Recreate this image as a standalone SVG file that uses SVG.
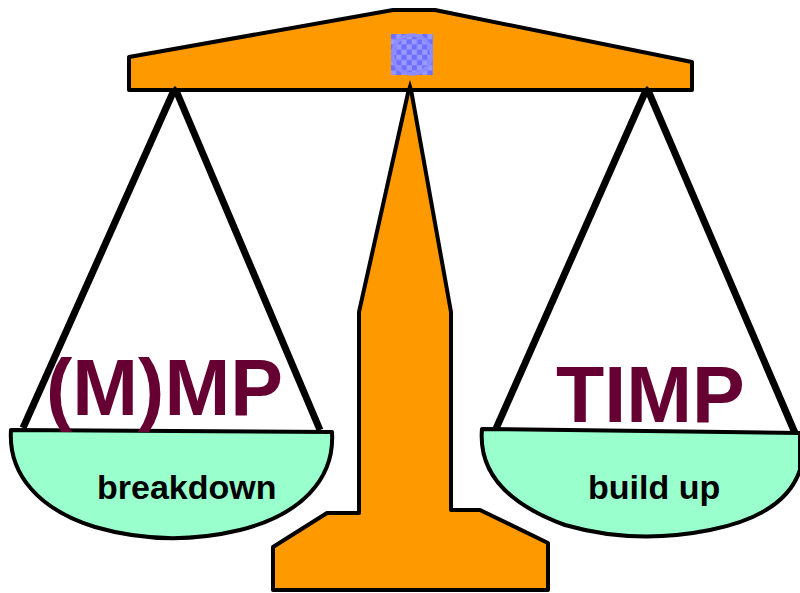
<svg xmlns="http://www.w3.org/2000/svg" width="800" height="593" viewBox="0 0 800 593">
  <defs>
    <style>
      .metal { fill: #ff9900; stroke: #000; stroke-width: 4; stroke-linejoin: round; }
      .pan { fill: #99ffcc; stroke: #000; stroke-width: 4; stroke-linejoin: round; }
      .cord { stroke: #000; stroke-width: 7; stroke-linecap: butt; fill: none; }
      .big { font-family: "Liberation Sans", Arial, sans-serif; font-weight: bold; font-size: 79px; fill: #660033; }
      .small { font-family: "Liberation Sans", Arial, sans-serif; font-weight: bold; font-size: 34px; fill: #000; }
    </style>
    <pattern id="checker" x="391" y="34" width="10.4" height="10.4" patternUnits="userSpaceOnUse">
      <rect width="10.4" height="10.4" fill="#9999ff"/>
      <rect width="5.2" height="5.2" fill="#6f6fff"/>
      <rect x="5.2" y="5.2" width="5.2" height="5.2" fill="#6f6fff"/>
    </pattern>
  </defs>

  <!-- stand: tapered column with a flared foot -->
  <g id="stand">
    <path class="metal" d="M410,84 L451,312 L451,510 L480,510 L548,543 L548,590 L273,590 L273,547 L327,513 L359,513 L359,312 Z"/>
  </g>

  <!-- cords hanging from the beam to the pans -->
  <g id="connectors">
    <line class="cord" x1="175" y1="88" x2="23" y2="428"/>
    <line class="cord" x1="175" y1="88" x2="320" y2="430"/>
    <line class="cord" x1="647" y1="88" x2="495" y2="431"/>
    <line class="cord" x1="647" y1="88" x2="795" y2="433"/>
  </g>

  <!-- balance beam -->
  <g id="beam">
    <path class="metal" d="M129,57 L393,10 L435,10 L692,62 L692,90 L129,90 Z"/>
    <rect x="391" y="34" width="42" height="41" fill="url(#checker)"/>
    <circle cx="412" cy="54.5" r="19.5" fill="none" stroke="#8c8cff" stroke-width="3.5"/>
    <path d="M171,90 L175,86 L179,90 Z" fill="#000"/>
    <path d="M643,90 L647,86 L651,90 Z" fill="#000"/>
    <path d="M407,90 L410,80 L413,90 Z" fill="#000"/>
  </g>

  <!-- left pan -->
  <g id="pan-left">
    <path class="pan" d="M11,430 L332,432 C335,480 300,515 240,530 C190,542 140,540 95,527 C40,510 8,475 11,430 Z"/>
    <text class="big" x="46" y="415">(M)MP</text>
    <text class="small" x="97" y="499">breakdown</text>
  </g>

  <!-- right pan -->
  <g id="pan-right">
    <path class="pan" d="M482,429 L800,433 L800,470 C790,500 760,520 710,530 C660,540 610,538 565,525 C510,505 478,475 482,429 Z"/>
    <text class="big" x="556" y="422">TIMP</text>
    <text class="small" x="588" y="499">build up</text>
  </g>
</svg>
